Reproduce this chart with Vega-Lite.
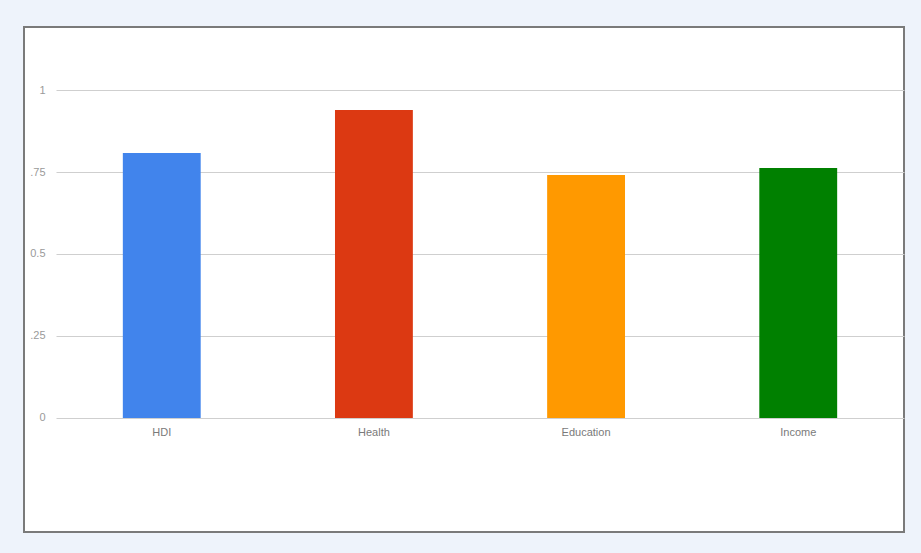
{
  "$schema": "https://vega.github.io/schema/vega-lite/v6.json",
  "autosize": {"type": "none"},
  "width": 880,
  "height": 505,
  "padding": {"left": 24, "top": 27, "right": 17, "bottom": 21},
  "background": "#eef3fb",
  "config": {
    "view": {"fill": "#ffffff", "stroke": "#7a7a7a", "strokeWidth": 2},
    "font": "Liberation Sans"
  },
  "data": {
    "values": [
      {"category": "HDI", "value": 0.808},
      {"category": "Health", "value": 0.939},
      {"category": "Education", "value": 0.741},
      {"category": "Income", "value": 0.762}
    ]
  },
  "mark": {"type": "bar"},
  "encoding": {
    "x": {
      "field": "category",
      "type": "nominal",
      "sort": null,
      "scale": {"range": [32, 880], "paddingInner": 0.633, "paddingOuter": 0.315},
      "axis": {
        "title": null,
        "orient": "bottom",
        "offset": -114,
        "domain": false,
        "ticks": false,
        "labelAngle": 0,
        "labelPadding": 8,
        "labelFontSize": 11,
        "labelColor": "#7a7a7a",
        "grid": false
      }
    },
    "y": {
      "field": "value",
      "type": "quantitative",
      "scale": {"domain": [-0.3476, 1.1921], "nice": false, "zero": false},
      "axis": {
        "title": null,
        "values": [0, 0.25, 0.5, 0.75, 1],
        "labelExpr": "datum.value == 0 ? '0' : datum.value == 0.25 ? '.25' : datum.value == 0.5 ? '0.5' : datum.value == 0.75 ? '.75' : '1'",
        "domain": false,
        "ticks": false,
        "labelPadding": -21,
        "labelFontSize": 11,
        "labelColor": "#9a9a9a",
        "grid": true,
        "gridColor": "#cfcfcf",
        "gridWidth": 1
      }
    },
    "color": {
      "field": "category",
      "type": "nominal",
      "sort": null,
      "scale": {
        "domain": ["HDI", "Health", "Education", "Income"],
        "range": ["#4184ec", "#dc3912", "#ff9900", "#008000"]
      },
      "legend": null
    }
  }
}
